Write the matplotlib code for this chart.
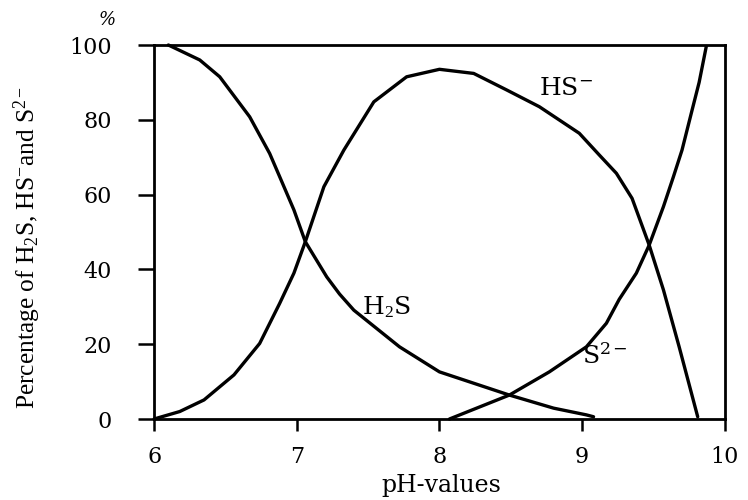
import matplotlib.pyplot as plt

plt.rcParams["mathtext.fontset"] = "custom"
plt.rcParams["mathtext.rm"] = "Liberation Serif"
plt.rcParams["mathtext.it"] = "Liberation Serif:italic"

# species distribution of dissolved sulphide vs pH
ph_h2s = [6.10, 6.32, 6.46, 6.67, 6.81, 6.88, 6.98, 7.06, 7.21, 7.30, 7.40, 7.72,
          8.00, 8.49, 8.80, 9.03, 9.08]
pct_h2s = [100, 96.0, 91.5, 80.8, 71.0, 64.8, 55.9, 47.4, 38.0, 33.4, 29.1, 19.3,
           12.6, 6.4, 2.9, 1.1, 0.6]

ph_hs = [6.0, 6.18, 6.35, 6.56, 6.74, 6.88, 6.98, 7.06, 7.19, 7.33, 7.54, 7.77, 8.00,
         8.24, 8.47, 8.70, 8.98, 9.12, 9.24, 9.35, 9.47, 9.57, 9.68, 9.81]
pct_hs = [0, 2.0, 5.1, 11.8, 20.2, 30.9, 39.0, 47.4, 62.1, 71.9, 84.8, 91.5, 93.5,
          92.4, 88.0, 83.5, 76.4, 70.6, 65.7, 59.0, 46.5, 34.5, 19.3, 0.6]

ph_s = [8.07, 8.49, 8.77, 9.03, 9.17, 9.26, 9.38, 9.47, 9.57, 9.64, 9.70, 9.77, 9.82, 9.87]
pct_s = [0, 6.4, 12.6, 19.3, 25.6, 32.0, 39.0, 46.5, 56.8, 64.8, 71.9, 82.5, 90.0, 99.6]

x_ticks = [6, 7, 8, 9, 10]
y_ticks = [0, 20, 40, 60, 80, 100]

fig = plt.figure(figsize=(7.48, 5.0), dpi=100)
ax = fig.add_axes([0.206, 0.162, 0.763, 0.748])

for xs, ys in [(ph_h2s, pct_h2s), (ph_hs, pct_hs), (ph_s, pct_s)]:
    ax.plot(xs, ys, color="black", lw=2.4, solid_joinstyle="round",
            solid_capstyle="round", clip_on=False)

ax.set_xlim(6, 10)
ax.set_ylim(0, 100)
ax.set_xticks(x_ticks)
ax.set_yticks(y_ticks)
ax.tick_params(axis="both", direction="out", width=1.8, labelsize=16, color="black")
ax.tick_params(axis="y", length=11.5, pad=19)
ax.tick_params(axis="x", length=8.5, pad=11)
for lbl in ax.get_xticklabels() + ax.get_yticklabels():
    lbl.set_family("DejaVu Serif")
for sp in ax.spines.values():
    sp.set_linewidth(2.0)

ax.set_xlabel("pH-values", family="DejaVu Serif", fontsize=17)
ax.xaxis.set_label_coords(0.503, -0.148)
ax.set_ylabel(r"Percentage of H$_\mathregular{2}$S, HS$^{\mathregular{-}}$and S$^{\mathregular{2-}}$",
              family="Liberation Serif", fontsize=18.3)
ax.yaxis.set_label_coords(-0.194, 0.46)
ax.text(-0.082, 1.067, "%", transform=ax.transAxes, family="DejaVu Serif",
        fontsize=13, style="italic", ha="center", va="center")

ax.text(7.46, 30, r"H$_2$S", family="DejaVu Serif", fontsize=18, ha="left", va="center")
ax.text(8.70, 88.5, r"HS$^{\mathregular{-}}$", family="DejaVu Serif", fontsize=18,
        ha="left", va="center")
ax.text(9.0, 17, r"S$^{\mathregular{2-}}$", family="DejaVu Serif", fontsize=18,
        ha="left", va="center")

fig.savefig("out.png", dpi=100)
